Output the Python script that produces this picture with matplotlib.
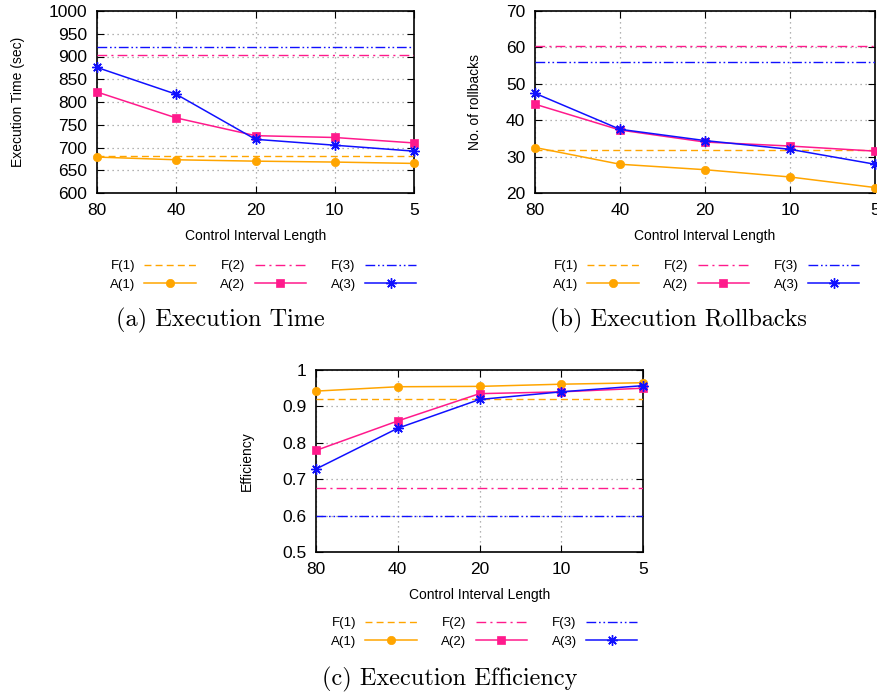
import matplotlib
matplotlib.use("Agg")
import matplotlib.pyplot as plt

# ---------------- data ----------------
x_labels = ["80", "40", "20", "10", "5"]

time_F = [681, 904, 920]
time_A1 = [679, 673, 670, 668, 665]
time_A2 = [822, 765, 726, 722, 710]
time_A3 = [876, 817, 718, 705, 692]

rb_F = [31.9, 60.5, 56.0]
rb_A1 = [32.5, 27.9, 26.4, 24.4, 21.5]
rb_A2 = [44.4, 37.3, 34.0, 32.9, 31.5]
rb_A3 = [47.4, 37.5, 34.4, 32.0, 27.9]

eff_F = [0.921, 0.675, 0.600]
eff_A1 = [0.942, 0.954, 0.955, 0.961, 0.965]
eff_A2 = [0.779, 0.860, 0.935, 0.940, 0.950]
eff_A3 = [0.728, 0.840, 0.919, 0.940, 0.957]

series_names_F = ["F(1)", "F(2)", "F(3)"]
series_names_A = ["A(1)", "A(2)", "A(3)"]

# ---------------- style ----------------
SANS = ["Liberation Sans", "DejaVu Sans"]
plt.rcParams["font.family"] = SANS

colors = ["#FFA500", "#FF1A8C", "#1010FF"]
f_styles = [(0, (5, 3)), (0, (7, 3, 1.5, 3)), (0, (7, 2, 1.2, 2, 1.2, 2))]
markers = ["o", "s", (8, 2, 0)]
msizes = [6, 5.8, 7.5]

W, H = 877, 696
fig = plt.figure(figsize=(W / 100, H / 100), dpi=100)


def px_axes(l, t, r, b):
    return fig.add_axes([l / W, 1 - b / H, (r - l) / W, (b - t) / H])


def draw_panel(ax, Fvals, A, ylim, yticks, ylabel, ylab_x, ytickfmt):
    xs = list(range(len(x_labels)))
    handles = []
    for i in range(3):
        hF, = ax.plot([xs[0], xs[-1]], [Fvals[i], Fvals[i]], color=colors[i],
                      lw=1.0, linestyle=f_styles[i], label=series_names_F[i], zorder=3)
        hA, = ax.plot(xs, A[i], color=colors[i], lw=1.1, marker=markers[i],
                      markersize=msizes[i], markeredgewidth=1.0 if i == 2 else 0.5,
                      markeredgecolor=colors[i], label=series_names_A[i], zorder=4,
                      clip_on=False)
        handles.append((hF, hA))
    ax.set_xlim(xs[0], xs[-1])
    ax.set_ylim(*ylim)
    ax.set_xticks(xs)
    ax.set_xticklabels(x_labels)
    ax.set_yticks(yticks)
    ax.set_yticklabels([ytickfmt(v) for v in yticks])
    ax.tick_params(axis="both", direction="in", length=5, width=0.8, labelsize=12.5,
                   top=True, right=True, colors="black")
    ax.tick_params(axis="x", pad=7)
    ax.tick_params(axis="y", pad=7)
    ax.grid(True, color="#9a9a9a", linestyle=(0, (1, 3)), lw=0.9)
    ax.set_axisbelow(True)
    for s in ax.spines.values():
        s.set_linewidth(1.2)
    ax.set_xlabel("Control Interval Length", fontsize=10)
    ax.xaxis.set_label_coords(0.5, -0.235)
    ax.xaxis.label.set_verticalalignment("center")
    ax.set_ylabel(ylabel, fontsize=10)
    ax.yaxis.set_label_coords(ylab_x, 0.5)
    ax.yaxis.label.set_verticalalignment("center")
    return handles


def add_legend(handles, x_left, y_top):
    order_h = []
    order_l = []
    for hF, hA in handles:
        order_h += [hF, hA]
        order_l += [hF.get_label(), hA.get_label()]
    fig.legend(order_h, order_l, ncol=3, loc="upper left",
               bbox_to_anchor=(x_left / W, 1 - y_top / H), frameon=False,
               markerfirst=False, fontsize=9.5, handlelength=3.9, handletextpad=0.7,
               columnspacing=1.85, labelspacing=0.5, borderpad=0, borderaxespad=0)


# (a) Execution Time
axA = px_axes(97, 11, 414, 193)
hA = draw_panel(axA, time_F, [time_A1, time_A2, time_A3], (600, 1000),
                list(range(600, 1001, 50)), "Execution Time (sec)", -0.249,
                lambda v: f"{v:d}")
add_legend(hA, 110, 260)

# (b) Execution Rollbacks
axB = px_axes(535, 11, 875, 193)
hB = draw_panel(axB, rb_F, [rb_A1, rb_A2, rb_A3], (20, 70),
                list(range(20, 71, 10)), "No. of rollbacks", -0.176,
                lambda v: f"{v:d}")
add_legend(hB, 553, 260)

# (c) Execution Efficiency
axC = px_axes(316, 370, 643, 552)
hC = draw_panel(axC, eff_F, [eff_A1, eff_A2, eff_A3], (0.5, 1.0),
                [0.5, 0.6, 0.7, 0.8, 0.9, 1.0], "Efficiency", -0.211,
                lambda v: ("1" if abs(v - 1) < 1e-9 else f"{v:.1f}"))
add_legend(hC, 331, 617)

CAP = ["cmr10", "DejaVu Serif"]
fig.text(220 / W, 1 - 320 / H, "(a) Execution Time", ha="center", va="center",
         fontsize=17.5, family=CAP)
fig.text(678 / W, 1 - 320 / H, "(b) Execution Rollbacks", ha="center", va="center",
         fontsize=17.5, family=CAP)
fig.text(450 / W, 1 - 679 / H, "(c) Execution Efficiency", ha="center", va="center",
         fontsize=17.5, family=CAP)

fig.savefig("out.png", dpi=100)
